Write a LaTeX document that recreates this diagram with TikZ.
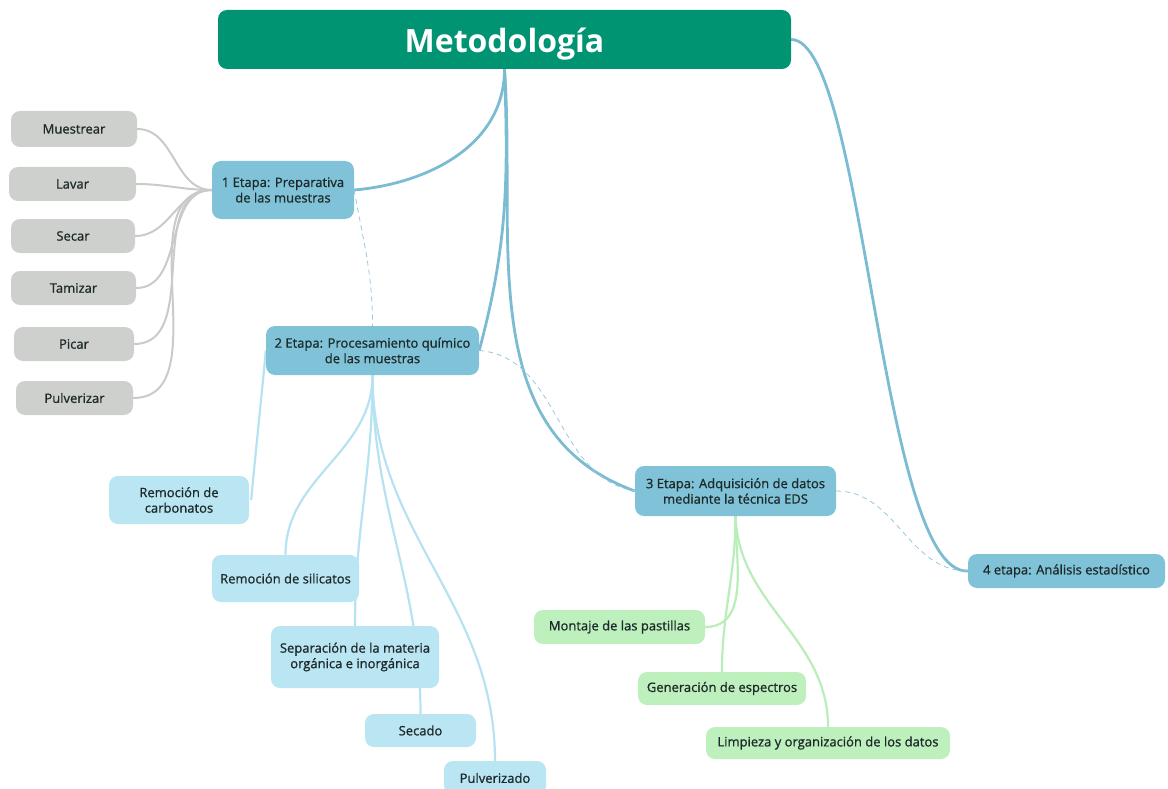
\documentclass[tikz,border=0pt]{standalone}
\usepackage{fontspec}
\setmainfont{Open Sans}
\newfontfamily\letra{Open Sans}[FakeBold=1.0]
\usetikzlibrary{backgrounds}

\definecolor{verde}{HTML}{009473}
\definecolor{azul}{HTML}{80C3D8}
\definecolor{celeste}{HTML}{BAE5F3}
\definecolor{gris}{HTML}{CDD0CC}
\definecolor{verdeclaro}{HTML}{BEF0BE}
\definecolor{lazul}{HTML}{7CBCD2}
\definecolor{lgris}{HTML}{C9CBC8}
\definecolor{lceleste}{HTML}{B7E2F1}
\definecolor{lverde}{HTML}{B9EDB9}
\definecolor{texto}{HTML}{1E2A2A}

\begin{document}
\begin{tikzpicture}[x=1pt,y=-1pt,
    caja/.style={rounded corners=9pt, align=center, inner sep=0pt, text=texto,
        font=\letra\fontsize{13}{15.5}\selectfont},
    sz/.style 2 args={minimum width=#1, minimum height=#2},
    titulo/.style={caja, fill=verde, text=white, text height=34pt, text depth=7pt,
        font=\fontsize{32}{36}\selectfont\bfseries},
    etapa/.style={caja, fill=azul},
    gris/.style={caja, fill=gris},
    cel/.style={caja, fill=celeste},
    verd/.style={caja, fill=verdeclaro},
    rama/.style={draw=lazul, line width=2.8pt},
    punteada/.style={draw=lazul!80, line width=0.8pt, dash pattern=on 5pt off 4pt},
    hgris/.style={draw=lgris, line width=2pt},
    hcel/.style={draw=lceleste, line width=2.2pt},
    hverde/.style={draw=lverde, line width=2.2pt}]
    \useasboundingbox (0,0) rectangle (1168,789);

    \node (met) at (504.5,39.5) [titulo, sz={573pt}{59pt}] {Metodología};

    % etapas
    \node (e1) at (283,190) [etapa, sz={142pt}{58pt}] {1 Etapa: Preparativa\\de las muestras};
    \node (e2) at (372.5,350.5) [etapa, sz={213pt}{49pt}] {2 Etapa: Procesamiento químico\\de las muestras};
    \node (e3) at (735.5,491) [etapa, sz={201pt}{50pt}] {3 Etapa: Adquisición de datos\\mediante la técnica EDS};
    \node (e4) at (1066.5,571) [etapa, sz={197pt}{34pt}] {4 etapa: Análisis estadístico};

    % etapa 1
    \node (mue) at (74,129) [gris, sz={126pt}{36pt}] {Muestrear};
    \node (lav) at (72.5,184) [gris, sz={127pt}{34pt}] {Lavar};
    \node (sec) at (73,236) [gris, sz={124pt}{34pt}] {Secar};
    \node (tam) at (73.5,288) [gris, sz={125pt}{34pt}] {Tamizar};
    \node (pic) at (74,344) [gris, sz={120pt}{34pt}] {Picar};
    \node (pul) at (74.5,398) [gris, sz={117pt}{34pt}] {Pulverizar};

    % etapa 2
    \node (car) at (179,500) [cel, sz={140pt}{48pt}] {Remoción de\\carbonatos};
    \node (sil) at (285.5,578.5) [cel, sz={147pt}{47pt}] {Remoción de silicatos};
    \node (sep) at (355,657) [cel, sz={168pt}{62pt}] {Separación de la materia\\orgánica e inorgánica};
    \node (sdo) at (420.5,730.5) [cel, sz={111pt}{33pt}] {Secado};
    \node (pzd) at (495,778) [cel, sz={102pt}{34pt}] {Pulverizado};

    % etapa 3
    \node (mon) at (619.5,627) [verd, sz={171pt}{34pt}] {Montaje de las pastillas};
    \node (gen) at (722,688.5) [verd, sz={168pt}{33pt}] {Generación de espectros};
    \node (lim) at (828,743) [verd, sz={244pt}{32pt}] {Limpieza y organización de los datos};

    \begin{pgfonlayer}{background}
        \draw[rama] (met.south) to[out=-90,in=5] (e1.east);
        \draw[rama] (met.south) to[out=-88,in=75] (e2.east);
        \draw[rama] (met.south) to[out=-86,in=160] (e3.west);
        \draw[rama] (met.east) .. controls (865,40) and (880,575) .. (e4.west);

        \draw[punteada] (e1.east) to[out=-80,in=90] (e2.north);
        \draw[punteada] (e2.east) to[out=-5,in=170] (e3.west);
        \draw[punteada] (e3.east) to[out=0,in=180] (e4.west);

        \foreach \n in {mue,lav,sec,tam,pic,pul}
            \draw[hgris] (e1.west) to[out=180,in=0] (\n.east);

        \draw[hcel] (e2.west) to[out=-95,in=85,looseness=0.6] ([xshift=2pt]car.east);
        \foreach \n in {sil,sep,sdo,pzd}
            \draw[hcel] (e2.south) to[out=-90,in=90] (\n.north);

        \draw[hverde] (e3.south) to[out=-90,in=0] (mon.east);
        \draw[hverde] (e3.south) to[out=-90,in=90] (gen.north);
        \draw[hverde] (e3.south) to[out=-88,in=90] (lim.north);
    \end{pgfonlayer}
\end{tikzpicture}
\end{document}
